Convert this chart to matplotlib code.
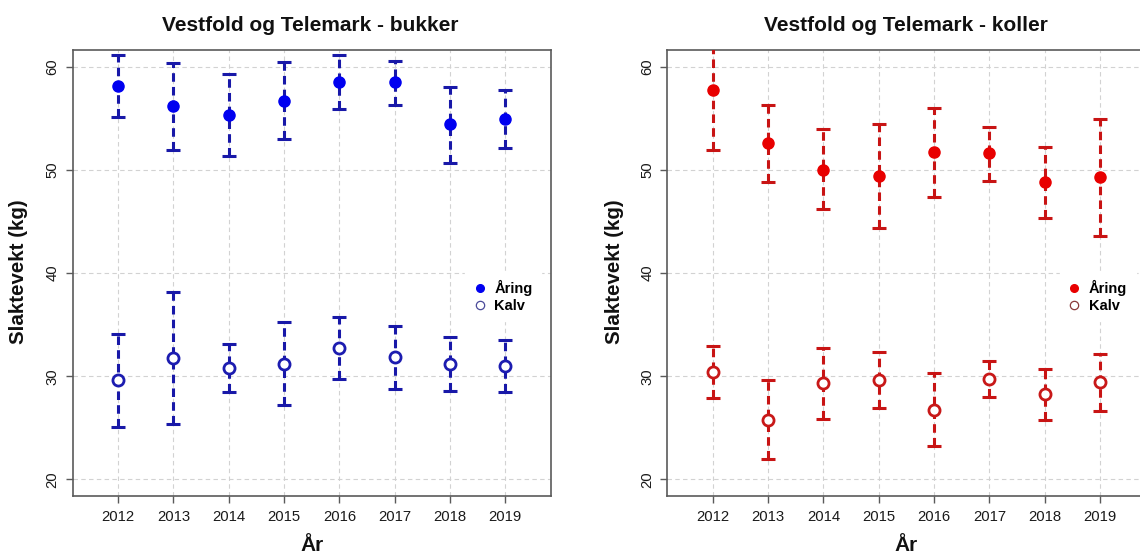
import matplotlib

matplotlib.use("Agg")
import matplotlib.pyplot as plt
from matplotlib.lines import Line2D

plt.rcParams["font.family"] = ["Liberation Sans", "DejaVu Sans"]

years = [2012, 2013, 2014, 2015, 2016, 2017, 2018, 2019]

# bukker (left panel)
bukker_aring = [58.1, 56.2, 55.3, 56.7, 58.5, 58.5, 54.4, 54.9]
bukker_aring_lo = [55.1, 51.9, 51.3, 53.0, 55.9, 56.3, 50.7, 52.1]
bukker_aring_hi = [61.1, 60.3, 59.3, 60.4, 61.1, 60.5, 58.0, 57.7]
bukker_kalv = [29.6, 31.8, 30.8, 31.2, 32.7, 31.9, 31.2, 31.0]
bukker_kalv_lo = [25.1, 25.4, 28.5, 27.2, 29.7, 28.8, 28.6, 28.5]
bukker_kalv_hi = [34.1, 38.2, 33.1, 35.3, 35.7, 34.9, 33.8, 33.5]

# koller (right panel) - 2012 upper bar runs off the top of the plot
koller_aring = [57.7, 52.6, 50.0, 49.4, 51.7, 51.6, 48.8, 49.3]
koller_aring_lo = [51.9, 48.8, 46.2, 44.4, 47.4, 48.9, 45.3, 43.6]
koller_aring_hi = [63.5, 56.3, 53.9, 54.4, 56.0, 54.1, 52.2, 54.9]
koller_kalv = [30.4, 25.8, 29.3, 29.6, 26.7, 29.7, 28.3, 29.4]
koller_kalv_lo = [27.9, 22.0, 25.9, 26.9, 23.2, 28.0, 25.8, 26.6]
koller_kalv_hi = [32.9, 29.6, 32.7, 32.3, 30.3, 31.5, 30.7, 32.2]

y_ticks = [20, 30, 40, 50, 60]
legend_labels = ["Åring", "Kalv"]

W, H = 1140, 553
AX_W = 478 / W
AX_BOTTOM = 1 - 496 / H
AX_H = 446 / H
SPINE = "#5a5a5a"


def draw_bars(ax, mid, lo, hi, color):
    err = [[m - l for m, l in zip(mid, lo)], [h - m for m, h in zip(mid, hi)]]
    eb = ax.errorbar(years, mid, yerr=err, fmt="none", ecolor=color,
                     elinewidth=2.2, capsize=4.8, capthick=2.2, zorder=3)
    for col in eb[2]:
        col.set_linestyle((0, (2.8, 1.7)))


def panel(ax, title, aring, aring_lo, aring_hi, kalv, kalv_lo, kalv_hi,
          point_col, bar_col, kalv_edge, legend_kalv_edge, title_x, ylab_x, xlab_x):
    ax.set_xlim(2011.18, 2019.82)
    ax.set_ylim(18.4, 61.6)
    ax.set_xticks(years)
    ax.set_yticks(y_ticks)
    ax.grid(True, color="#d2d2d2", linestyle=(0, (4, 3)), linewidth=0.8)
    ax.set_axisbelow(True)

    draw_bars(ax, aring, aring_lo, aring_hi, bar_col)
    draw_bars(ax, kalv, kalv_lo, kalv_hi, bar_col)
    ax.plot(years, aring, "o", color=point_col, ms=8, zorder=4)
    ax.plot(years, kalv, "o", mfc="white", mec=kalv_edge, mew=2.0, ms=8, zorder=4)

    for s in ax.spines.values():
        s.set_color(SPINE)
        s.set_linewidth(1.2)
    ax.tick_params(axis="both", length=5, width=1, color=SPINE,
                   labelsize=10.7, labelcolor="#1a1a1a")
    ax.tick_params(axis="x", pad=5)
    ax.tick_params(axis="y", pad=4.5)
    for lab in ax.get_yticklabels():
        lab.set_rotation(90)
        lab.set_va("center")

    handles = [
        Line2D([], [], ls="none", marker="o", color=point_col, ms=5.5),
        Line2D([], [], ls="none", marker="o", mfc="white", mec=legend_kalv_edge, mew=0.9, ms=6),
    ]
    leg = ax.legend(handles, legend_labels, loc="center left", bbox_to_anchor=(0.821, 0.448),
                    prop={"weight": "bold", "size": 10.5}, frameon=True, fancybox=False,
                    handlelength=0.8, handletextpad=0.6, labelspacing=0.2,
                    borderpad=0.6, borderaxespad=0)
    leg.get_frame().set_facecolor("white")
    leg.get_frame().set_edgecolor("white")
    leg.get_frame().set_alpha(1)
    leg.set_zorder(6)

    fig = ax.figure
    fig.text(title_x / W, 1 - 31 / H, title, ha="center", va="baseline",
             fontsize=15, fontweight="bold", color="#111111")
    fig.text(ylab_x / W, 1 - 272 / H, "Slaktevekt (kg)", ha="center", va="center",
             rotation=90, fontsize=14.8, fontweight="bold", color="#111111")
    fig.text(xlab_x / W, 1 - 551 / H, "År", ha="center", va="baseline",
             fontsize=15, fontweight="bold", color="#111111")


def main():
    fig = plt.figure(figsize=(W / 100, H / 100), dpi=100)
    ax_l = fig.add_axes([72.7 / W, AX_BOTTOM, AX_W, AX_H])
    ax_r = fig.add_axes([667.4 / W, AX_BOTTOM, AX_W, AX_H])

    panel(ax_l, "Vestfold og Telemark - bukker",
          bukker_aring, bukker_aring_lo, bukker_aring_hi,
          bukker_kalv, bukker_kalv_lo, bukker_kalv_hi,
          point_col="#0000f0", bar_col="#1818a8", kalv_edge="#1c1cb0",
          legend_kalv_edge="#4a4a9a", title_x=310, ylab_x=19, xlab_x=312)
    panel(ax_r, "Vestfold og Telemark - koller",
          koller_aring, koller_aring_lo, koller_aring_hi,
          koller_kalv, koller_kalv_lo, koller_kalv_hi,
          point_col="#e80000", bar_col="#c81414", kalv_edge="#c81818",
          legend_kalv_edge="#8a3a3a", title_x=906, ylab_x=614, xlab_x=906)

    fig.savefig("out.png", dpi=100)
    plt.close(fig)


if __name__ == "__main__":
    main()
